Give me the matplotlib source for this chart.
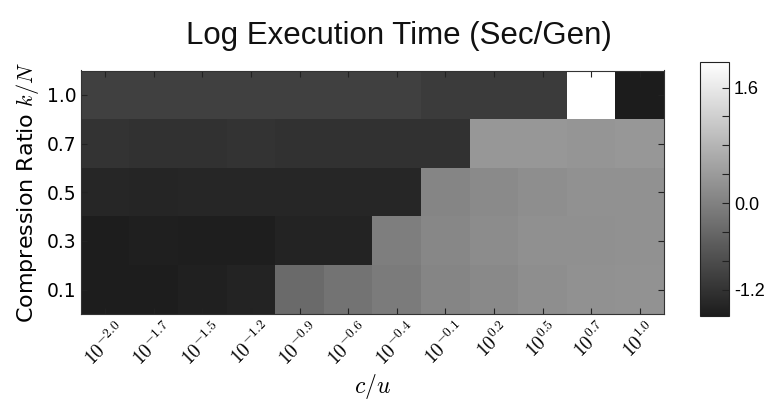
import numpy as np
import matplotlib
matplotlib.use("Agg")
import matplotlib.pyplot as plt
from matplotlib.colors import LinearSegmentedColormap

plt.rcParams['mathtext.fontset'] = 'cm'

# data (log10 sec/gen), rows bottom -> top
ratios = ["0.1", "0.3", "0.5", "0.7", "1.0"]
cu_exps = ["-2.0", "-1.7", "-1.5", "-1.2", "-0.9", "-0.6", "-0.4", "-0.1", "0.2", "0.5", "0.7", "1.0"]

row_01 = [-1.52, -1.52, -1.49, -1.45, -0.35, -0.21, -0.09, 0.07, 0.14, 0.21, 0.26, 0.27]
row_03 = [-1.52, -1.50, -1.51, -1.51, -1.45, -1.45, -0.03, 0.10, 0.18, 0.24, 0.24, 0.26]
row_05 = [-1.39, -1.40, -1.39, -1.39, -1.39, -1.39, -1.39, 0.07, 0.15, 0.21, 0.26, 0.26]
row_07 = [-1.19, -1.22, -1.22, -1.20, -1.22, -1.22, -1.22, -1.22, 0.35, 0.35, 0.32, 0.35]
row_10 = [-0.99, -0.99, -0.99, -0.99, -0.99, -0.99, -0.99, -1.08, -1.08, -1.08, 1.95, -1.56]

data = np.array([row_01, row_03, row_05, row_07, row_10])

cmap = LinearSegmentedColormap.from_list("g", ["#1c1c1c", "#ffffff"])

fig = plt.figure(figsize=(7.72, 4.01), dpi=100)
ax = fig.add_axes([81/772, 87/401, 583/772, 243.5/401])
im = ax.imshow(data, origin='lower', aspect='auto', interpolation='nearest', cmap=cmap)

ax.set_xticks(range(len(cu_exps)))
ax.set_xticklabels([r"$10^{%s}$" % e for e in cu_exps], rotation=45, fontsize=14)
ax.set_yticks(range(len(ratios)))
ax.set_yticklabels(ratios, fontsize=13.5, family='DejaVu Sans')
ax.tick_params(direction='in', top=True, right=True, length=4, width=0.8, color='#222222')
for s in ax.spines.values():
    s.set_color('#333333')
ax.set_xlabel(r"$c/u$", fontsize=17, labelpad=2)
ax.set_ylabel(r"Compression Ratio $k/N$", fontsize=16, family='DejaVu Sans')

cax = fig.add_axes([700/772, 85.3/401, 29/772, 253.4/401])
cb = fig.colorbar(im, cax=cax)
ticks = np.round(np.arange(-1.2, 1.61, 0.4), 1)
cb.set_ticks(ticks)
cb.set_ticklabels([("%.1f" % t if t in (-1.2, 0.0, 1.6) else "") for t in ticks])
cax.tick_params(direction='in', length=5, width=0.8, labelsize=13, color='#222222')
for lbl in cax.get_yticklabels():
    lbl.set_family('Liberation Sans')
cb.outline.set_edgecolor('#222222')

fig.text(399/772, 365/401, "Log Execution Time (Sec/Gen)", ha='center', va='center',
         fontsize=22.5, family='Liberation Sans', color='#111111')

fig.savefig("out.png", dpi=100)
